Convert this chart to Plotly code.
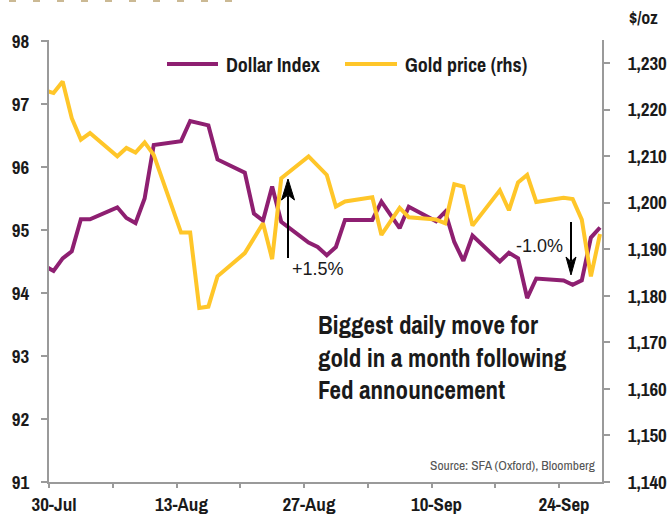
import plotly.graph_objects as go
import pandas as pd

# ---------------- data ----------------
dates = [
    "2018-07-27",
    "2018-07-30", "2018-07-31", "2018-08-01", "2018-08-02", "2018-08-03",
    "2018-08-06", "2018-08-07", "2018-08-08", "2018-08-09", "2018-08-10",
    "2018-08-13", "2018-08-14", "2018-08-15", "2018-08-16", "2018-08-17",
    "2018-08-20", "2018-08-21", "2018-08-22", "2018-08-23", "2018-08-24",
    "2018-08-27", "2018-08-28", "2018-08-29", "2018-08-30", "2018-08-31",
    "2018-09-03", "2018-09-04", "2018-09-05", "2018-09-06", "2018-09-07",
    "2018-09-10", "2018-09-11", "2018-09-12", "2018-09-13", "2018-09-14",
    "2018-09-17", "2018-09-18", "2018-09-19", "2018-09-20", "2018-09-21",
    "2018-09-24", "2018-09-25", "2018-09-26", "2018-09-27", "2018-09-28",
]
dollar_index = [
    94.60,
    94.35, 94.55, 94.66, 95.17, 95.17,
    95.36, 95.19, 95.11, 95.50, 96.35,
    96.41, 96.73, 96.70, 96.66, 96.12,
    95.91, 95.26, 95.15, 95.69, 95.13,
    94.80, 94.73, 94.60, 94.73, 95.16,
    95.16, 95.45, 95.24, 95.03, 95.37,
    95.14, 95.29, 94.81, 94.51, 94.91,
    94.50, 94.64, 94.55, 93.92, 94.23,
    94.20, 94.13, 94.20, 94.88, 95.04,
]
gold_price = [
    1225.4,
    1223.6, 1226.1, 1218.2, 1213.6, 1215.0,
    1210.0, 1211.8, 1210.8, 1213.0, 1210.3,
    1193.6, 1193.6, 1177.4, 1177.7, 1184.2,
    1189.2, 1192.5, 1195.6, 1187.9, 1205.3,
    1210.0, 1208.0, 1206.0, 1199.2, 1200.3,
    1201.2, 1193.1, 1196.0, 1198.9, 1196.9,
    1196.4, 1195.6, 1204.0, 1203.5, 1195.1,
    1202.7, 1198.4, 1204.4, 1206.0, 1200.2,
    1201.1, 1200.8, 1196.4, 1184.2, 1193.3,
]
tick_dates = ["2018-07-30", "2018-08-06", "2018-08-13", "2018-08-20", "2018-08-27",
              "2018-09-03", "2018-09-10", "2018-09-17", "2018-09-24"]
tick_labels = ["30-Jul", "", "13-Aug", "", "27-Aug", "", "10-Sep", "", "24-Sep"]
left_ticks = [91, 92, 93, 94, 95, 96, 97, 98]
right_ticks = [1140, 1150, 1160, 1170, 1180, 1190, 1200, 1210, 1220, 1230]

# ---------------- styling ----------------
PURPLE = "#8E1F71"
GOLD = "#FFC629"
AXIS = "#9a9a9a"
TXT = "#1a1a1a"
NARROW = "Archivo Narrow, Roboto Condensed, Barlow Semi Condensed, sans-serif"
SANS = "Liberation Sans, Arial, sans-serif"

W, H = 672, 519
L, R, T, B = 49, 70, 40, 37
PW, PH = W - L - R, H - T - B


def px(x):
    return (x - L) / PW


def py(y):
    return (H - B - y) / PH


x = pd.to_datetime(dates) + pd.Timedelta(hours=12)

fig = go.Figure()
fig.add_trace(go.Scatter(x=x, y=dollar_index, name="Dollar Index", mode="lines",
                         line=dict(color=PURPLE, width=4), yaxis="y"))
fig.add_trace(go.Scatter(x=x, y=gold_price, name="Gold price (rhs)", mode="lines",
                         line=dict(color=GOLD, width=4), yaxis="y2"))

tickfont = dict(family=NARROW, size=19, color=TXT, weight="bold")

fig.update_layout(
    width=W, height=H,
    margin=dict(l=L, r=R, t=T, b=B, autoexpand=False),
    paper_bgcolor="white", plot_bgcolor="white",
    showlegend=False,
    xaxis=dict(type="date", range=["2018-07-30", "2018-09-28 17:15"],
               tickvals=tick_dates, ticktext=tick_labels, ticklabelshift=5,
               ticks="outside", ticklen=4, tickwidth=2, tickcolor=AXIS,
               showline=True, linecolor=AXIS, linewidth=2, automargin=False,
               showgrid=False, zeroline=False, tickfont=tickfont),
    yaxis=dict(range=[91, 98.016], tickvals=left_ticks,
               ticks="outside", ticklen=6, tickwidth=2, tickcolor=AXIS,
               showline=True, linecolor=AXIS, linewidth=2, automargin=False,
               showgrid=False, zeroline=False, tickfont=tickfont,
               ticklabelstandoff=8),
    yaxis2=dict(range=[1140, 1235], tickvals=right_ticks, tickformat=",",
                overlaying="y", side="right",
                ticks="outside", ticklen=6, tickwidth=2, tickcolor=AXIS,
                showline=True, linecolor=AXIS, linewidth=2, automargin=False,
                showgrid=False, zeroline=False, tickfont=tickfont,
                ticklabelstandoff=14),
)

ann = []
shapes = []


def text(t, x0, y0, size, xanchor="left", family=NARROW, bold=True, color=TXT):
    ann.append(dict(text=t, x=px(x0), y=py(y0), xref="paper", yref="paper",
                    xanchor=xanchor, yanchor="middle", showarrow=False, align="left",
                    font=dict(family=family, size=size, color=color,
                              weight="bold" if bold else "normal")))


# axis unit
text("$/oz", 643, 18, 18, xanchor="center")

# legend
shapes.append(dict(type="line", xref="paper", yref="paper", x0=px(167), x1=px(218),
                   y0=py(64), y1=py(64), line=dict(color=PURPLE, width=4)))
text("Dollar Index", 224, 64, 20)
shapes.append(dict(type="line", xref="paper", yref="paper", x0=px(345), x1=px(397),
                   y0=py(64), y1=py(64), line=dict(color=GOLD, width=4)))
text("Gold price (rhs)", 403, 64, 20)

# commentary
text("Biggest daily move for<br>gold in a month following<br>Fed announcement", 316, 357, 25)

# source
text("Source: SFA (Oxford), Bloomberg", 598, 465, 13.5, xanchor="right",
     bold=False, color="#555555")

# move labels
text("+1.5%", 290, 269, 18, family=SANS, bold=False)
text("-1.0%", 565, 246, 18, xanchor="right", family=SANS, bold=False)


def path(points):
    return "M " + " L ".join(f"{px(a):.5f},{py(b):.5f}" for a, b in points) + " Z"


# up arrow
shapes.append(dict(type="line", xref="paper", yref="paper", x0=px(288), x1=px(288),
                   y0=py(258), y1=py(196), line=dict(color="black", width=2)))
shapes.append(dict(type="path", xref="paper", yref="paper",
                   path=path([(288, 179), (294.5, 200), (288, 195), (281.5, 200)]),
                   fillcolor="black", line=dict(color="black", width=1)))
# down arrow
shapes.append(dict(type="line", xref="paper", yref="paper", x0=px(571), x1=px(571),
                   y0=py(222), y1=py(261), line=dict(color="black", width=2)))
shapes.append(dict(type="path", xref="paper", yref="paper",
                   path=path([(571, 275), (576, 257), (571, 261.5), (566, 257)]),
                   fillcolor="black", line=dict(color="black", width=1)))

# partial dotted rule at the very top
shapes.append(dict(type="line", xref="paper", yref="paper", x0=px(9), x1=px(232),
                   y0=py(-2), y1=py(-2),
                   line=dict(color="#CBB994", width=8, dash="7px,17px")))

fig.update_layout(annotations=ann, shapes=shapes)
fig.write_html("out.html")
